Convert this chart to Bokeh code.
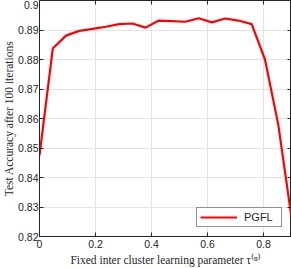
from bokeh.plotting import figure
from bokeh.models import Range1d, FixedTicker, LinearAxis, Legend, LegendItem
from bokeh.embed import file_html
from bokeh.resources import INLINE

tau = [0.0, 0.0474, 0.0947, 0.1421, 0.1895, 0.2368, 0.2842, 0.3316, 0.3789, 0.4263,
       0.4737, 0.5211, 0.5684, 0.6158, 0.6632, 0.7105, 0.7579, 0.8053, 0.8526, 0.9]
acc = [0.8475, 0.8837, 0.8881, 0.8897, 0.8904, 0.8911, 0.8920, 0.8922, 0.8908, 0.8932,
       0.8930, 0.8928, 0.8940, 0.8926, 0.8939, 0.8932, 0.8920, 0.8800, 0.8580, 0.8265]
x_ticks = [0, 0.2, 0.4, 0.6, 0.8]
y_ticks = [0.82, 0.83, 0.84, 0.85, 0.86, 0.87, 0.88, 0.89, 0.9]
series_name = "PGFL"

p = figure(width=291, height=268, output_backend="svg", toolbar_location=None,
           x_range=Range1d(0, 0.9), y_range=Range1d(0.82, 0.9),
           min_border_left=0, min_border_right=0, min_border_top=0, min_border_bottom=0)

r = p.line(tau, acc, line_color="#ff0000", line_width=2.2)

p.outline_line_color = "#262626"
p.outline_line_width = 1
p.grid.grid_line_color = "#e3e3e3"
p.grid.grid_line_width = 1

p.xaxis.ticker = FixedTicker(ticks=x_ticks)
p.yaxis.ticker = FixedTicker(ticks=y_ticks)
p.xaxis.major_label_overrides = {0: "0"}
p.yaxis.major_label_overrides = {0.9: "0.9"}
p.xgrid.ticker = FixedTicker(ticks=x_ticks)
p.ygrid.ticker = FixedTicker(ticks=y_ticks)

for ax in (p.xaxis[0], p.yaxis[0]):
    ax.major_tick_in = 4
    ax.major_tick_out = 0
    ax.minor_tick_line_color = None
    ax.axis_line_color = "#262626"
    ax.major_tick_line_color = "#262626"
    ax.major_label_text_font = "Liberation Sans"
    ax.major_label_text_font_size = "10.5px"
    ax.major_label_text_color = "#262626"
    ax.axis_label_text_font = "Liberation Serif"
    ax.axis_label_text_font_style = "normal"
    ax.axis_label_text_font_size = "11.5px"
    ax.axis_label_text_color = "#262626"

p.xaxis.axis_label = "Fixed inter cluster learning parameter τ⁽ⁿ⁾"
p.yaxis.axis_label = "Test Accuracy after 100 iterations"
p.xaxis.major_label_standoff = 3
p.yaxis.major_label_standoff = 1
p.xaxis.axis_label_standoff = 3
p.yaxis.axis_label_standoff = 0

# ticks on the top and right sides of the box
ra = LinearAxis(ticker=FixedTicker(ticks=y_ticks), major_tick_in=4, major_tick_out=0,
                minor_tick_line_color=None, major_label_text_font_size="1px",
                major_label_text_color=None, major_label_standoff=0,
                axis_line_color="#262626", major_tick_line_color="#262626")
ta = LinearAxis(ticker=FixedTicker(ticks=x_ticks), major_tick_in=4, major_tick_out=0,
                minor_tick_line_color=None, major_label_text_font_size="1px",
                major_label_text_color=None, major_label_standoff=0,
                axis_line_color="#262626", major_tick_line_color="#262626")
p.add_layout(ra, "right")
p.add_layout(ta, "above")

legend = Legend(items=[LegendItem(label=series_name, renderers=[r])],
                location="bottom_right")
legend.label_text_font = "Liberation Sans"
legend.label_text_font_size = "11px"
legend.label_text_color = "#262626"
legend.border_line_color = "#262626"
legend.border_line_width = 1
legend.glyph_width = 37
legend.glyph_height = 12
legend.padding = 3
legend.margin = 9
legend.label_standoff = 7
legend.label_width = 34
legend.spacing = 0
p.add_layout(legend)

open("out.html", "w").write(file_html(p, INLINE))
